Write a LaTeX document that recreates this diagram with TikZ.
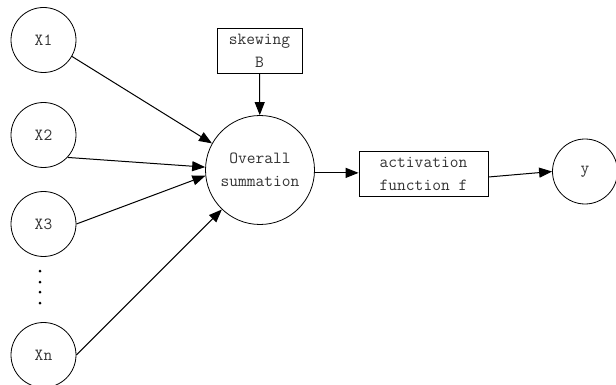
\documentclass[tikz,border=0pt]{standalone}
\usetikzlibrary{arrows.meta,positioning}
\tikzset{
  txt/.style={font=\ttfamily\fontsize{17}{23}\selectfont, text=black!80},
  unit/.style={circle, draw, line width=0.8pt, inner sep=0pt, txt},
  blockbox/.style={draw, line width=0.8pt, inner sep=0pt, align=center, txt},
  link/.style={->, line width=1pt}
}
\begin{document}
\begin{tikzpicture}[x=1pt, y=-1pt, >={Triangle[length=13pt,width=10pt]}]
    \useasboundingbox (0,0) rectangle (616,385);

    % inputs
    \foreach \name/\lbl/\yy in {x1/X1/40, x2/X2/135, x3/X3/224, xn/Xn/355} {
        \node[unit, minimum size=65pt] (\name) at (43.5,\yy) {\lbl};
    }
    \foreach \yy in {271,282,292,303} {
        \fill (40,\yy) circle (1.5pt);
    }

    % summation and bias
    \node[unit, minimum size=109pt, align=center] (sum) at (260,170) {Overall\\summation};
    \node[blockbox, minimum width=85pt, minimum height=45pt] (skew) at (259.5,50.5) {skewing\\B};

    % activation and output
    \node[blockbox, minimum width=129pt, minimum height=45pt] (act) at (423.5,173.5) {activation\\function f};
    \node[unit, minimum size=65pt] (out) at (585,171.5) {y};

    % connections
    \foreach \from/\a/\b in {x1/-30/151, x2/-43/177, x3/0/186, xn/0/226} {
        \draw[link] (\from.\a) -- (sum.\b);
    }
    \draw[link] (skew) -- (sum);
    \draw[link] (sum.-3) -- (sum.-3 -| act.west);
    \draw[link] ([yshift=-3.5pt]act.east) -- (out.west);
\end{tikzpicture}
\end{document}
